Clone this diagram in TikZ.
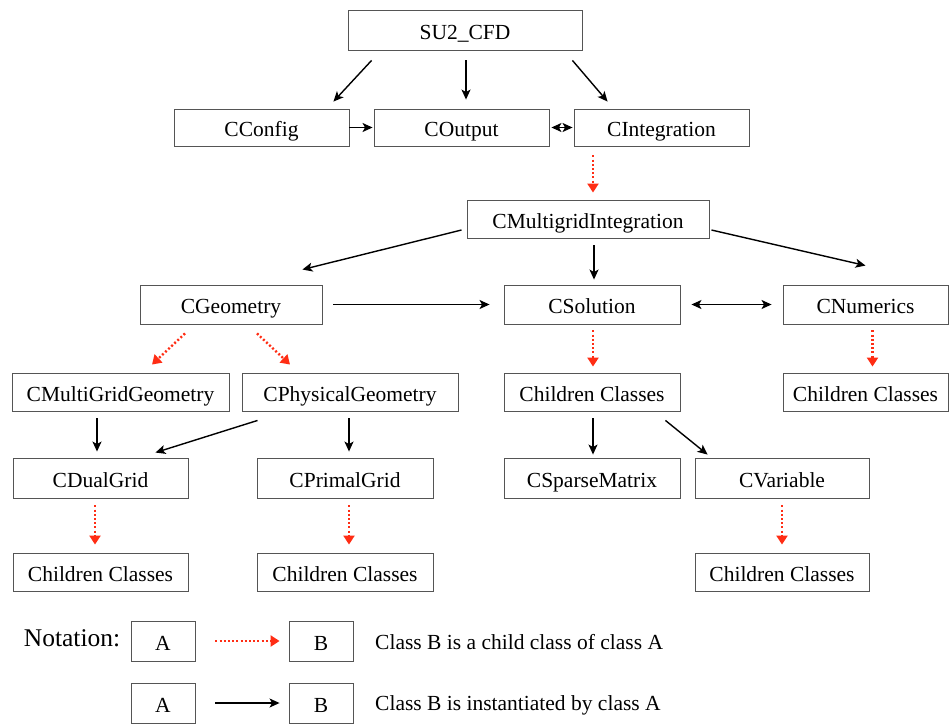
\documentclass[tikz,border=0pt]{standalone}
\usepackage{fontspec}
\setmainfont{Liberation Serif}
\usepackage{color}
\definecolor{myred}{RGB}{255,45,20}
\definecolor{myframe}{RGB}{85,85,85}
\usepackage{tikz}
\usetikzlibrary{arrows.meta,positioning}
\tikzstyle{cls}=[draw=myframe,line width=0.9pt,minimum width=175pt,minimum height=38pt,inner sep=0pt,text height=20pt,text depth=2pt,font=\fontsize{21.5}{26}\selectfont]
\tikzstyle{inst}=[-{Stealth[length=10pt,width=9pt,inset=2.5pt]},line width=1.4pt,black]
\tikzstyle{both}=[{Stealth[length=10pt,width=9pt,inset=2.5pt]}-{Stealth[length=10pt,width=9pt,inset=2.5pt]},line width=1.4pt,black]
\tikzstyle{child}=[-{Triangle[length=9pt,width=11pt]},line width=2.4pt,myred,dash pattern=on 2pt off 2.2pt]

\begin{document}
\begin{tikzpicture}[x=1pt,y=-1pt]
\useasboundingbox (0,0) rectangle (949,723);

% classes
\node[cls, minimum width=234pt, minimum height=40pt] (su2) at (465,30) {SU2\_CFD};
\node[cls, minimum height=37pt] (config) at (261.5,127.5) {CConfig};
\node[cls, minimum height=37pt] (output) at (461.5,127.5) {COutput};
\node[cls, minimum height=37pt] (integ) at (661.5,127.5) {CIntegration};
\node[cls, minimum width=242pt] (mgint) at (588,219) {CMultigridIntegration};
\node[cls, minimum width=182pt, minimum height=39pt] (geom) at (231,304.5) {CGeometry};
\node[cls, minimum width=176pt, minimum height=39pt] (sol) at (592,304.5) {CSolution};
\node[cls, minimum width=165pt, minimum height=39pt] (num) at (865.5,304.5) {CNumerics};
\node[cls, minimum width=217pt] (mggeom) at (120.5,392) {CMultiGridGeometry};
\node[cls, minimum width=216pt] (physgeom) at (350,392) {CPhysicalGeometry};
\node[cls, minimum width=176pt] (solchild) at (592,392) {Children Classes};
\node[cls, minimum width=165pt] (numchild) at (865.5,392) {Children Classes};
\node[cls, minimum height=40pt] (dual) at (100.5,478) {CDualGrid};
\node[cls, minimum width=176pt, minimum height=40pt] (primal) at (345,478) {CPrimalGrid};
\node[cls, minimum width=176pt, minimum height=40pt] (sparse) at (592,478) {CSparseMatrix};
\node[cls, minimum width=174pt, minimum height=40pt] (var) at (782,478) {CVariable};
\node[cls] (dualchild) at (100.5,572) {Children Classes};
\node[cls, minimum width=176pt] (primalchild) at (345,572) {Children Classes};
\node[cls, minimum width=174pt] (varchild) at (782,572) {Children Classes};

% links
\draw[inst] ([xshift=24pt,yshift=-10pt]su2.south west) -- ([xshift=-16pt,yshift=7pt]config.north east);
\draw[inst] ([xshift=1pt,yshift=-10pt]su2.south) -- ([xshift=4.5pt,yshift=9pt]output.north);
\draw[inst] ([xshift=-10pt,yshift=-10pt]su2.south east) -- ([xshift=34pt,yshift=7pt]integ.north west);
\draw[inst] (config.east) -- ([xshift=-1pt]output.west);
\draw[both] ([xshift=2pt]output.east) -- ([xshift=-1pt]integ.west);
\draw[child] ([xshift=-68.5pt,yshift=-9pt]integ.south) -- ([xshift=5pt,yshift=7pt]mgint.north);
\draw[inst] ([xshift=-5pt,yshift=-11pt]mgint.west) -- ([xshift=-20pt,yshift=15pt]geom.north east);
\draw[inst] ([xshift=6pt,yshift=-7pt]mgint.south) -- ([xshift=2pt,yshift=5pt]sol.north);
\draw[inst] ([xshift=2pt,yshift=-11pt]mgint.east) -- ([yshift=19pt]num.north);
\draw[inst] ([xshift=11pt]geom.east) -- ([xshift=-14pt]sol.west);
\draw[both] ([xshift=11pt]sol.east) -- ([xshift=-11pt]num.west);
\draw[child] ([xshift=-46pt,yshift=-9pt]geom.south) -- ([xshift=31.5pt,yshift=8pt]mggeom.north);
\draw[child] ([xshift=26pt,yshift=-9pt]geom.south) -- ([xshift=-60pt,yshift=8pt]physgeom.north);
\draw[child] ([xshift=1pt,yshift=-6pt]sol.south) -- ([xshift=1pt,yshift=6pt]solchild.north);
\draw[child] ([xshift=7pt,yshift=-6pt]num.south) -- ([xshift=7pt,yshift=6pt]numchild.north);
\draw[inst] ([xshift=-23.5pt,yshift=-7pt]mggeom.south) -- ([xshift=-3.5pt,yshift=6pt]dual.north);
\draw[inst] ([xshift=16pt,yshift=-9pt]physgeom.south west) -- ([xshift=-33pt,yshift=5pt]dual.north east);
\draw[inst] ([xshift=-1pt,yshift=-7pt]physgeom.south) -- ([xshift=4pt,yshift=6pt]primal.north);
\draw[inst] ([xshift=1pt,yshift=-7pt]solchild.south) -- ([xshift=1pt,yshift=3pt]sparse.north);
\draw[inst] ([xshift=-15pt,yshift=-9pt]solchild.south east) -- ([xshift=13pt,yshift=3pt]var.north west);
\draw[child] ([xshift=-5.5pt,yshift=-7pt]dual.south) -- ([xshift=-5.5pt,yshift=8pt]dualchild.north);
\draw[child] ([xshift=4pt,yshift=-7pt]primal.south) -- ([xshift=4pt,yshift=8pt]primalchild.north);
\draw[child] ([yshift=-7pt]var.south) -- ([yshift=8pt]varchild.north);

% notation
\node[font=\fontsize{25.5}{30}\selectfont] (nota) at (72,638) {Notation:};
\node[cls, minimum width=64pt, minimum height=40pt] (a1) at (163,641) {A};
\node[cls, minimum width=64pt, minimum height=40pt] (b1) at (321,641) {B};
\node[font=\fontsize{21.5}{26}\selectfont, anchor=west, inner sep=0pt] (t1) at (375,642) {Class B is a child class of class A};
\node[cls, minimum width=64pt, minimum height=40pt] (a2) at (163,703) {A};
\node[cls, minimum width=64pt, minimum height=40pt] (b2) at (321,703) {B};
\node[font=\fontsize{21.5}{26}\selectfont, anchor=west, inner sep=0pt] (t2) at (375,705) {Class B is instantiated by class A};
\draw[child] ([xshift=20pt]a1.east) -- ([xshift=-9pt]b1.west);
\draw[inst] ([xshift=20pt]a2.east) -- ([xshift=-9pt]b2.west);

\end{tikzpicture}
\end{document}
